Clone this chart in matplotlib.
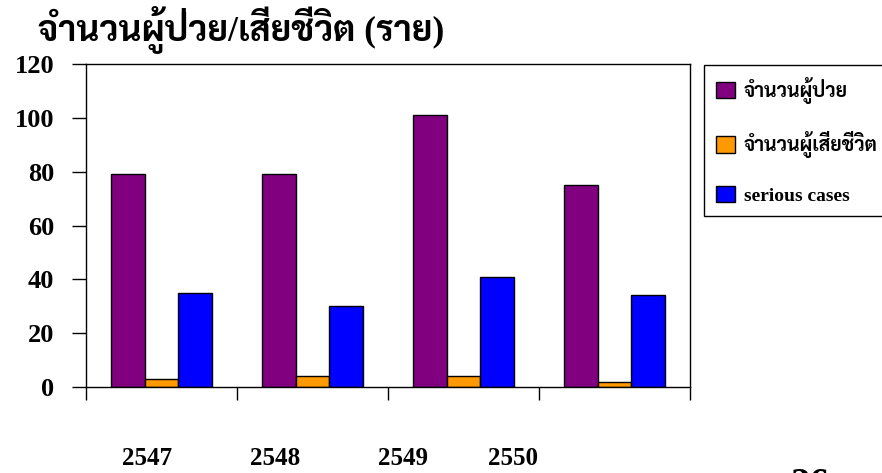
import numpy as np
import matplotlib
matplotlib.use("Agg")
import matplotlib.pyplot as plt

# data
years = ["2547", "2548", "2549", "2550"]
sick = [79, 79, 101, 75]
dead = [3, 4, 4, 2]
serious = [35, 30, 41, 34]

title = "จำนวนผู้ป่วย/เสียชีวิต (ราย)"
labels = ["จำนวนผู้ป่วย", "จำนวนผู้เสียชีวิต", "serious cases"]
colors = ["#800080", "#FF9900", "#0000FF"]

FONT = ["Liberation Serif", "Sarabun", "Taviraj", "DejaVu Sans"]
plt.rcParams["font.family"] = FONT
plt.rcParams["font.weight"] = "bold"


def main():
    fig = plt.figure(figsize=(8.82, 4.73), dpi=100)
    ax = fig.add_axes([86 / 882, 1 - 387 / 473, 604 / 882, 323 / 473])

    x = np.arange(len(years))
    w = 0.222
    for off, vals, c, lab in zip([-w, 0, w], [sick, dead, serious], colors, labels):
        ax.bar(x + off, vals, w, color=c, edgecolor="black", linewidth=1, label=lab)

    ax.set_xlim(-0.5, len(years) - 0.5)
    ax.set_ylim(0, 120)
    ax.set_xticks(np.arange(-0.5, len(years), 1))
    ax.set_xticklabels([])
    ax.tick_params(axis="x", length=9.5, width=1, direction="out")
    ax.set_yticks(range(0, 121, 20))
    ax.tick_params(axis="y", length=10, width=1, pad=13, labelsize=19)
    for s in ax.spines.values():
        s.set_linewidth(1)
        s.set_color("black")

    # year labels sit well below the axis, not centred on the groups
    year_pos = [0.101, 0.313, 0.525, 0.707]
    for xp, yr in zip(year_pos, years):
        ax.text(xp, -0.221, yr, transform=ax.transAxes, ha="center", va="center",
                fontsize=18, fontweight="bold")

    fig.text(38 / 882, 1 - 30 / 473, title, ha="left", va="center",
             fontsize=25.5, fontweight="bold")

    leg = fig.legend(loc="upper left", bbox_to_anchor=(704 / 882, 1 - 65 / 473),
                     bbox_transform=fig.transFigure, frameon=True, fancybox=False,
                     framealpha=1, edgecolor="black", fontsize=14,
                     handlelength=1.0, handleheight=0.9, labelspacing=1.42,
                     handletextpad=0.45, borderpad=0.6, borderaxespad=0)
    leg.get_frame().set_linewidth(1)

    # slide number, cut off by the bottom edge
    fig.text(790 / 882, 1 - 467 / 473, "26", ha="left", va="top",
             fontsize=28, fontweight="bold")

    fig.savefig("out.png", dpi=100)


if __name__ == "__main__":
    main()
